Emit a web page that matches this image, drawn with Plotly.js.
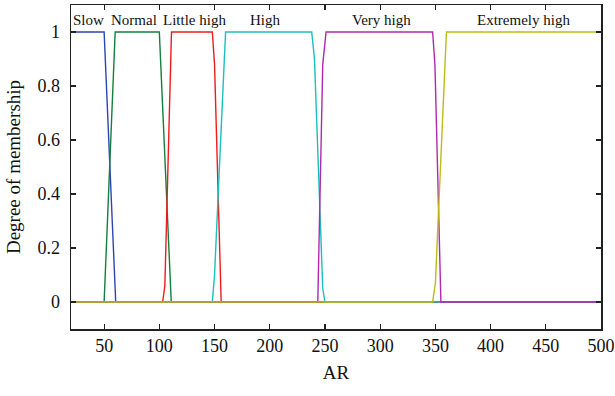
<!DOCTYPE html>
<html>
<head>
<meta charset="utf-8">
<script src="https://cdn.plot.ly/plotly-3.0.1.min.js"></script>
<style>html,body{margin:0;padding:0;background:#fff;}#chart{width:615px;height:396px;}</style>
</head>
<body>
<div id="chart"></div>
<script>
// Membership function break points (AR values and membership degrees)
const slowX = [20, 50, 60.5, 500];
const slowY = [1, 1, 0, 0];
const normalX = [20, 50, 60, 100, 110.8, 500];
const normalY = [0, 0, 1, 1, 0, 0];
const littleX = [20, 103, 105, 111, 148, 150, 156, 500];
const littleY = [0, 0, 0.06, 1, 1, 0.88, 0, 0];
const highX = [20, 148, 150, 160, 238, 240.5, 248, 250, 500];
const highY = [0, 0, 0.1, 1, 1, 0.9, 0.05, 0, 0];
const veryX = [20, 243.5, 248, 251, 347.5, 349.6, 355, 500];
const veryY = [0, 0, 0.88, 1, 1, 0.88, 0, 0];
const extremeX = [20, 347.5, 350, 360, 500];
const extremeY = [0, 0, 0.07, 1, 1];

const xTicks = [50, 100, 150, 200, 250, 300, 350, 400, 450, 500];
const yTicks = [0, 0.2, 0.4, 0.6, 0.8, 1];
const yTickText = ["0", "0.2", "0.4", "0.6", "0.8", "1"];

const labels = ["Slow", "Normal", "Little high", "High", "Very high", "Extremely high"];
const labelX = [35.5, 77, 132, 196, 301, 430];
const labelY = 1.045;

const colors = ["#2a46b4", "#12803c", "#f01c1c", "#1cbfbf", "#b02ab0", "#bcbc14"];
const seriesX = [slowX, normalX, littleX, highX, veryX, extremeX];
const seriesY = [slowY, normalY, littleY, highY, veryY, extremeY];

const font = "'Liberation Serif', 'DejaVu Serif', serif";

const traces = seriesX.map((xs, i) => ({
  x: xs, y: seriesY[i], type: 'scatter', mode: 'lines', name: labels[i],
  line: {color: colors[i], width: 1.4}
}));

const annotations = labels.map((t, i) => ({
  x: labelX[i], y: labelY, xref: 'x', yref: 'y', text: t, showarrow: false,
  font: {family: font, size: 15, color: '#111'}
}));

const layout = {
  width: 615, height: 396,
  margin: {l: 71, r: 14, t: 5, b: 67},
  paper_bgcolor: '#fff', plot_bgcolor: '#fff',
  showlegend: false,
  font: {family: font, color: '#111'},
  xaxis: {
    range: [20, 500], tickmode: 'array', tickvals: xTicks, ticktext: xTicks.map(String),
    showgrid: false, zeroline: false,
    showline: true, linecolor: '#222', linewidth: 1.5, mirror: 'ticks',
    ticks: 'inside', ticklen: 5, tickcolor: '#222', tickwidth: 1.2,
    tickfont: {family: font, size: 18, color: '#111'},
    title: {text: 'AR', font: {family: font, size: 19, color: '#111'}, standoff: 10}
  },
  yaxis: {
    range: [-0.1, 1.1], tickmode: 'array', tickvals: yTicks, ticktext: yTickText,
    showgrid: false, zeroline: false,
    showline: true, linecolor: '#222', linewidth: 1.5, mirror: 'ticks',
    ticks: 'inside', ticklen: 5, tickcolor: '#222', tickwidth: 1.2,
    ticklabelstandoff: 6,
    tickfont: {family: font, size: 18, color: '#111'},
    title: {text: 'Degree of membership', font: {family: font, size: 19, color: '#111'}, standoff: 12}
  },
  annotations: annotations
};

Plotly.newPlot('chart', traces, layout, {displayModeBar: false, staticPlot: true});
</script>
</body>
</html>
